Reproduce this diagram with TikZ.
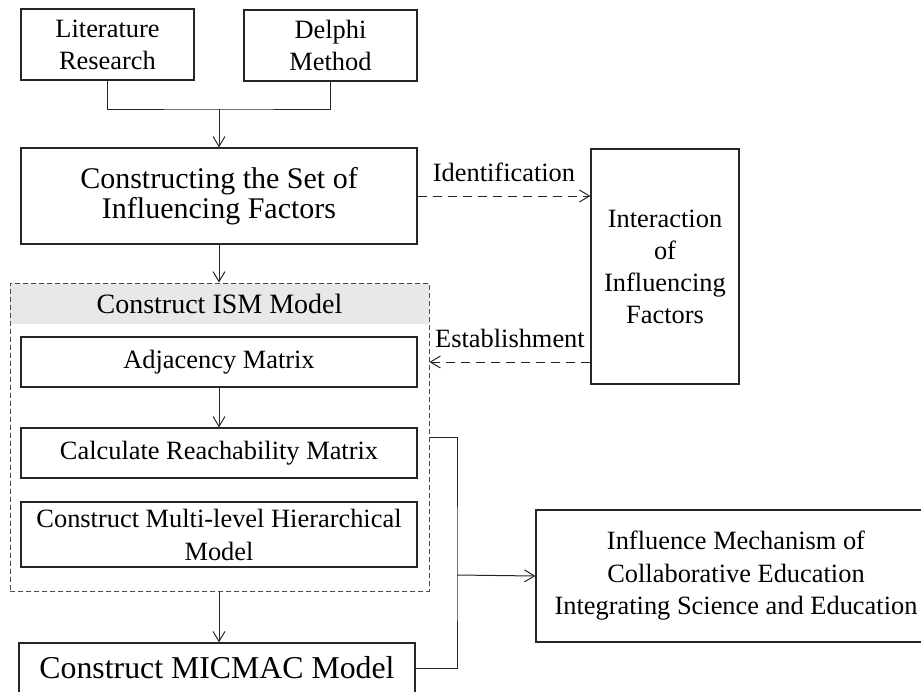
\documentclass[tikz,border=0pt]{standalone}
\usepackage{fontspec}
\setmainfont{Liberation Serif}
\usepackage{xcolor}
\colorlet{colorFrame}{black!85}
\colorlet{colorHeader}{black!9}
\colorlet{colorDash}{black!70}
\usetikzlibrary{arrows.meta}
\tikzset{
  box/.style={draw=colorFrame, line width=0.6pt, align=center, inner sep=0pt, font=\fontsize{13.2}{16}\selectfont},
  wide/.style={minimum width=198pt},
  flow/.style={->, colorFrame, line width=0.5pt},
  link/.style={->, colorFrame, line width=0.5pt, dash pattern=on 4.5pt off 3pt},
  tag/.style={inner sep=0pt, text=black, font=\fontsize{13.2}{16}\selectfont},
}

\begin{document}
\begin{tikzpicture}[x=0.5pt, y=-0.5pt, >={Straight Barb[length=5pt,width=6pt]}]
\useasboundingbox (0,0) rectangle (921,691);
% sources
\node[box, minimum width=86.5pt, minimum height=35.5pt] (lit) at (107.5,44.5) {Literature\\Research};
\node[box, minimum width=86.5pt, minimum height=35.5pt] (delphi) at (330.5,45.5) {Delphi\\Method};
\node[box, wide, minimum height=48pt, font=\fontsize{15}{13.5}\selectfont] (cset) at (219,196) {Constructing the Set of\\Influencing Factors};
\node[box, minimum width=74pt, minimum height=117.5pt] (inter) at (665,266.5) {Interaction\\of\\Influencing\\Factors};
% ISM group
\node[fill=colorHeader, inner sep=0pt, minimum width=209.5pt, minimum height=20.5pt, font=\fontsize{14}{16}\selectfont] (ismhead) at (219.5,303.5) {Construct ISM Model};
\node[draw=colorDash, line width=0.5pt, dash pattern=on 2.5pt off 1.5pt, minimum width=209.5pt, minimum height=154pt] (ism) at (219.5,437) {};
\node[box, wide, minimum height=25pt] (adj) at (219,362) {Adjacency Matrix};
\node[box, wide, minimum height=25pt] (reach) at (219,453) {Calculate Reachability Matrix};
\node[box, wide, minimum height=32.5pt, font=\fontsize{13.2}{16.5}\selectfont] (multi) at (219,534.5) {Construct Multi-level Hierarchical\\Model};
% outputs
\node[box, wide, minimum height=25pt, font=\fontsize{15.9}{18}\selectfont] (micmac) at (217,668) {Construct MICMAC Model};
\node[box, minimum width=200pt, minimum height=66pt, font=\fontsize{13.2}{16.25}\selectfont] (infl) at (736,576) {Influence Mechanism of\\Collaborative Education\\Integrating Science and Education};

\coordinate (join) at (219,109);
\coordinate (bus) at (457,575);
\draw[colorFrame, line width=0.5pt] (lit.south) |- (join) -| (delphi.south);
\draw[flow] (join) -- (cset.north);
\draw[flow] (cset.south) -- (cset.south |- ism.north);
\draw[link] (cset.east) -- (cset.east -| inter.west) node[tag, midway, above=7pt] {Identification};
\draw[link] (inter.west |- adj) -- (ism.east |- adj) node[tag, midway, above=7pt] {Establishment};
\draw[flow] (adj.south) -- (reach.north);
\draw[flow] (join |- ism.south) -- (join |- micmac.north);
\draw[colorFrame, line width=0.5pt] (ism.east) -| (bus) |- (micmac.east);
\draw[flow] (bus) -- (infl.west);
\end{tikzpicture}
\end{document}
